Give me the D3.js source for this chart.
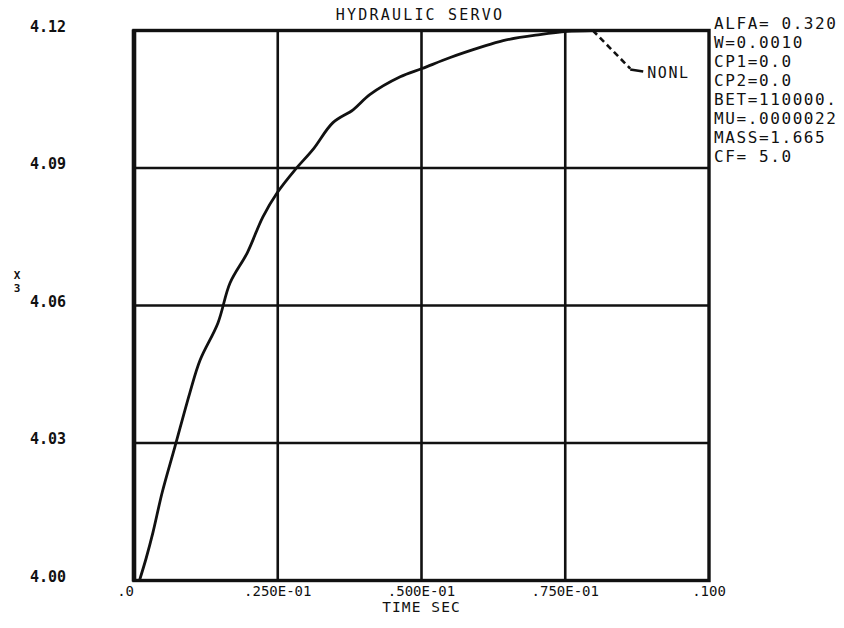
<!DOCTYPE html>
<html>
<head>
<meta charset="utf-8">
<script src="https://cdn.jsdelivr.net/npm/d3@7"></script>
<style>
  html, body { margin: 0; padding: 0; background: #fff; }
  svg { display: block; }
  .plot { font-family: "DejaVu Sans Mono", monospace; fill: #111; }
</style>
</head>
<body>
<svg id="chart" width="844" height="628"></svg>
<script>
// Hydraulic servo response: X3 against time (seconds)
const timeSec = [0.0010, 0.0021, 0.0033, 0.0049, 0.0071, 0.0097, 0.0115, 0.0146, 0.0167,
                 0.0197, 0.0224, 0.0249, 0.0280, 0.0311, 0.0346, 0.0381, 0.0410, 0.0463,
                 0.0501, 0.0550, 0.0602, 0.0642, 0.0706, 0.0753, 0.0798];
const x3Values = [4.0002, 4.0048, 4.0105, 4.0192, 4.0291, 4.0409, 4.0481, 4.0562, 4.0649,
                  4.0715, 4.0793, 4.0846, 4.0896, 4.0940, 4.0999, 4.1027, 4.1060, 4.1099,
                  4.1117, 4.1141, 4.1163, 4.1178, 4.1191, 4.1198, 4.1200];

const xTickValues = [0, 0.025, 0.05, 0.075, 0.1];
const xTickLabels = [".0", ".250E-01", ".500E-01", ".750E-01", ".100"];
const yTickValues = [4.00, 4.03, 4.06, 4.09, 4.12];
const yTickLabels = ["4.00", "4.03", "4.06", "4.09", "4.12"];

const titleText = "HYDRAULIC SERVO";
const xTitle = "TIME SEC";
const yTitle = ["X", "3"];
const curveName = "NONL";
const curveLabelAt = { t: 0.0863, v: 4.1117 };
const parameterLines = ["ALFA= 0.320", "W=0.0010", "CP1=0.0", "CP2=0.0", "BET=110000.",
                        "MU=.0000022", "MASS=1.665", "CF= 5.0"];

const svg = d3.select("#chart");
svg.append("rect").attr("width", 844).attr("height", 628).attr("fill", "#fff");

const x = d3.scaleLinear().domain([0, 0.1]).range([134, 709]);
const y = d3.scaleLinear().domain([4.00, 4.12]).range([580.5, 30.5]);

const g = svg.append("g").attr("class", "plot");

// grid
g.selectAll("line.vgrid").data(xTickValues.slice(1, -1)).join("line")
  .attr("x1", d => x(d)).attr("x2", d => x(d))
  .attr("y1", y(4.12)).attr("y2", y(4.00))
  .attr("stroke", "#111").attr("stroke-width", 2.6);
g.selectAll("line.hgrid").data(yTickValues.slice(1, -1)).join("line")
  .attr("x1", x(0)).attr("x2", x(0.1))
  .attr("y1", d => y(d)).attr("y2", d => y(d))
  .attr("stroke", "#111").attr("stroke-width", 2.6);

// frame
g.append("rect")
  .attr("x", x(0)).attr("y", y(4.12))
  .attr("width", x(0.1) - x(0)).attr("height", y(4.00) - y(4.12))
  .attr("fill", "none").attr("stroke", "#111").attr("stroke-width", 3.4);
g.append("line")
  .attr("x1", x(0)).attr("x2", x(0)).attr("y1", y(4.12) - 1).attr("y2", y(4.00) + 1)
  .attr("stroke", "#111").attr("stroke-width", 4.6);

// curve
const pts = timeSec.map((t, i) => [t, x3Values[i]]);
g.append("path")
  .datum(pts)
  .attr("fill", "none").attr("stroke", "#111").attr("stroke-width", 2.8)
  .attr("stroke-linejoin", "round").attr("stroke-linecap", "round")
  .attr("d", d3.line().x(d => x(d[0])).y(d => y(d[1])).curve(d3.curveCatmullRom.alpha(0.5)));

// curve label with leader
const last = pts[pts.length - 1];
g.append("line")
  .attr("x1", x(last[0])).attr("y1", y(last[1]))
  .attr("x2", x(curveLabelAt.t)).attr("y2", y(curveLabelAt.v))
  .attr("stroke", "#111").attr("stroke-width", 2.6).attr("stroke-dasharray", "6,4");
g.append("line")
  .attr("x1", x(curveLabelAt.t)).attr("y1", y(curveLabelAt.v) + 1)
  .attr("x2", x(curveLabelAt.t) + 13).attr("y2", y(curveLabelAt.v) + 3)
  .attr("stroke", "#111").attr("stroke-width", 2.6);
g.append("text")
  .attr("x", x(curveLabelAt.t) + 17).attr("y", y(curveLabelAt.v) + 4)
  .attr("dominant-baseline", "central")
  .attr("font-size", 15).attr("letter-spacing", 1.6)
  .text(curveName);

// x tick labels
g.selectAll("text.xt").data(xTickValues).join("text")
  .attr("x", d => x(d))
  .attr("y", 591)
  .attr("text-anchor", (d, i) => i === 0 ? "end" : "middle")
  .attr("dominant-baseline", "central")
  .attr("font-size", 14).attr("letter-spacing", 0)
  .text((d, i) => xTickLabels[i]);

// y tick labels
g.selectAll("text.yt").data(yTickValues).join("text")
  .attr("x", 66)
  .attr("y", d => y(d) - 4)
  .attr("text-anchor", "end")
  .attr("dominant-baseline", "central")
  .attr("font-size", 15).attr("font-weight", "bold")
  .text((d, i) => yTickLabels[i]);

// axis titles
g.append("text")
  .attr("x", (x(0) + x(0.1)) / 2).attr("y", 607)
  .attr("text-anchor", "middle").attr("dominant-baseline", "central")
  .attr("font-size", 14.5).attr("letter-spacing", 1.1)
  .text(xTitle);
g.selectAll("text.ytitle").data(yTitle).join("text")
  .attr("x", 17).attr("y", (d, i) => 275 + i * 13)
  .attr("text-anchor", "middle").attr("dominant-baseline", "central")
  .attr("font-size", 11).attr("font-weight", "bold")
  .text(d => d);

// title
g.append("text")
  .attr("x", 420).attr("y", 15)
  .attr("text-anchor", "middle").attr("dominant-baseline", "central")
  .attr("font-size", 15).attr("letter-spacing", 2.2)
  .text(titleText);

// parameter listing
g.selectAll("text.param").data(parameterLines).join("text")
  .attr("x", 714).attr("y", (d, i) => 23 + i * 19)
  .attr("dominant-baseline", "central")
  .attr("font-size", 16).attr("letter-spacing", 1.6)
  .text(d => d);
</script>
</body>
</html>
